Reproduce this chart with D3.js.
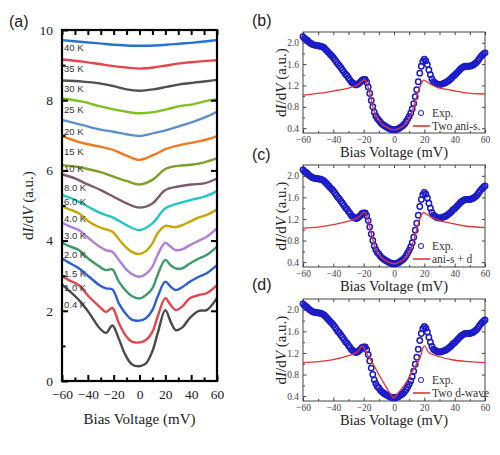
<!DOCTYPE html>
<html>
<head>
<meta charset="utf-8">
<script src="https://cdn.jsdelivr.net/npm/d3@7"></script>
<style>
  body { margin: 0; background: #fff; }
  text { font-family: "Liberation Serif", "Times New Roman", serif; }
</style>
</head>
<body>
<div id="chart"></div>
<script>
// ---- Panel (a): temperature-dependent spectra ----
const temps = ["0.4 K", "1.0 K", "1.5 K", "2.0 K", "3.0 K", "4.0 K", "6.0 K", "8.0 K",
               "10 K", "15 K", "20 K", "25 K", "30 K", "35 K", "40 K"];

const biasLow = [-60, -55, -47, -39, -31, -26, -21, -16, -11, -6, 0, 5, 10, 14, 20, 24, 28, 33, 39, 46, 52, 60];
const biasMid = [-60, -50, -40, -30, -20, -10, 0, 10, 20, 30, 40, 50, 60];
const biasHigh = [-60, -44, -31, -20, -10, 0, 11, 21, 31, 42, 52, 60];

const g04 = [2.75, 2.59, 2.31, 1.94, 1.51, 1.37, 1.58, 1.20, 0.75, 0.48, 0.42, 0.50, 0.85, 1.35, 2.02, 1.70, 1.45, 1.52, 1.80, 2.00, 2.02, 2.36];
const g10 = [2.99, 2.88, 2.73, 2.40, 2.12, 1.97, 2.08, 1.65, 1.31, 1.12, 1.10, 1.17, 1.40, 1.83, 2.36, 2.17, 2.02, 2.12, 2.36, 2.45, 2.50, 2.73];
const g15 = [3.49, 3.38, 3.21, 2.97, 2.73, 2.64, 2.61, 2.21, 1.93, 1.75, 1.72, 1.79, 2.02, 2.40, 2.83, 2.69, 2.59, 2.67, 2.83, 2.97, 3.07, 3.30];
const g20 = [3.94, 3.85, 3.73, 3.47, 3.26, 3.16, 3.18, 2.83, 2.59, 2.42, 2.35, 2.45, 2.64, 3.02, 3.45, 3.30, 3.21, 3.21, 3.35, 3.49, 3.59, 3.83];
const g30 = [4.51, 4.42, 4.30, 4.06, 3.83, 3.73, 3.68, 3.45, 3.21, 3.05, 2.97, 3.05, 3.26, 3.59, 3.94, 3.83, 3.73, 3.75, 3.87, 4.00, 4.11, 4.35];
const g40 = [4.99, 4.90, 4.78, 4.54, 4.38, 4.32, 4.25, 4.04, 3.83, 3.68, 3.62, 3.70, 3.92, 4.21, 4.42, 4.40, 4.38, 4.44, 4.54, 4.66, 4.73, 4.89];
const g60 = [5.30, 5.16, 4.97, 4.78, 4.65, 4.44, 4.30, 4.49, 4.92, 5.06, 5.16, 5.25, 5.41];
const g80 = [5.89, 5.77, 5.60, 5.44, 5.25, 5.06, 4.94, 5.06, 5.44, 5.54, 5.60, 5.63, 5.77];
const g100 = [6.15, 6.11, 6.04, 5.95, 5.82, 5.70, 5.60, 5.73, 6.04, 6.13, 6.16, 6.23, 6.34];
const g150 = [6.98, 6.78, 6.68, 6.58, 6.42, 6.30, 6.44, 6.62, 6.72, 6.80, 6.88, 6.98];
const g200 = [7.44, 7.29, 7.17, 7.10, 7.03, 6.98, 7.06, 7.15, 7.26, 7.39, 7.53, 7.67];
const g250 = [8.05, 7.96, 7.83, 7.74, 7.67, 7.63, 7.66, 7.74, 7.83, 7.89, 7.98, 8.03];
const g300 = [8.56, 8.53, 8.48, 8.40, 8.31, 8.27, 8.31, 8.38, 8.45, 8.50, 8.54, 8.58];
const g350 = [9.16, 9.10, 9.03, 8.97, 8.93, 8.90, 8.93, 8.99, 9.05, 9.09, 9.12, 9.14];
const g400 = [9.71, 9.66, 9.62, 9.58, 9.56, 9.55, 9.56, 9.58, 9.61, 9.64, 9.68, 9.71];

// level (in dI/dV units) where each temperature label sits
const labelLevel = [2.17, 2.65, 3.06, 3.59, 4.14, 4.62, 5.11, 5.51, 6.06, 6.53, 7.11, 7.73, 8.32, 8.90, 9.49];

const tempColors = ["#4a4a4a", "#e2474d", "#2c5fd0", "#3a9a68", "#b07fd9", "#c9a500", "#22c6c6", "#7b5a6b",
                    "#7ea02a", "#f07b1f", "#5b90cc", "#7dc11f", "#505050", "#e2474d", "#2474cf"];

// ---- Panels (b)-(d): 0.4 K spectrum (1 mV steps from -60 to 60) and fits ----
const expG = [
    2.11, 2.08, 2.06, 2.04, 2.01, 1.99, 1.97, 1.96, 1.95, 1.95,   // -60 .. -51
    1.94, 1.94, 1.93, 1.92, 1.90, 1.87, 1.84, 1.81, 1.78, 1.75,   // -50 .. -41
    1.72, 1.68, 1.64, 1.60, 1.57, 1.53, 1.49, 1.45, 1.41, 1.38,   // -40 .. -31
    1.34, 1.30, 1.26, 1.24, 1.22, 1.21, 1.22, 1.24, 1.27, 1.30,   // -30 .. -21
    1.31, 1.31, 1.26, 1.17, 1.05, 0.92, 0.80, 0.70, 0.63, 0.58,   // -20 .. -11
    0.55, 0.51, 0.48, 0.46, 0.44, 0.42, 0.41, 0.39, 0.38, 0.37,   // -10 .. -1
    0.37,                                                         // 0
    0.37, 0.38, 0.39, 0.41, 0.43, 0.45, 0.48, 0.52, 0.57, 0.62,   // 1 .. 10
    0.68, 0.76, 0.86, 0.99, 1.12, 1.27, 1.43, 1.56, 1.65, 1.69,   // 11 .. 20
    1.66, 1.59, 1.49, 1.40, 1.32, 1.27, 1.25, 1.23, 1.22, 1.22,   // 21 .. 30
    1.22, 1.23, 1.24, 1.25, 1.27, 1.29, 1.31, 1.34, 1.37, 1.39,   // 31 .. 40
    1.42, 1.45, 1.48, 1.51, 1.53, 1.55, 1.56, 1.56, 1.56, 1.56,   // 41 .. 50
    1.57, 1.58, 1.60, 1.62, 1.65, 1.69, 1.73, 1.76, 1.79, 1.81    // 51 .. 60
];
const expBias = d3.range(-60, 61, 1);

const fitBias = [-60, -50, -39, -30, -24, -22, -20, -19, -18, -17, -16, -15, -14, -13, -12, -10, -8, -5, 0,
                 5, 8, 10, 12, 14, 16, 18, 19.5, 21, 23, 29, 38, 47, 60];
const fitTwoAniS = [1.02, 1.05, 1.10, 1.15, 1.21, 1.26, 1.30, 1.30, 1.25, 1.16, 1.05, 0.93, 0.81, 0.71, 0.64, 0.55, 0.48, 0.42, 0.37,
                    0.42, 0.50, 0.58, 0.72, 0.90, 1.08, 1.24, 1.30, 1.28, 1.24, 1.16, 1.11, 1.06, 1.04];
const fitAniSD = [1.03, 1.05, 1.10, 1.16, 1.22, 1.27, 1.32, 1.32, 1.26, 1.17, 1.06, 0.94, 0.82, 0.72, 0.64, 0.55, 0.48, 0.42, 0.37,
                  0.42, 0.50, 0.58, 0.72, 0.91, 1.10, 1.27, 1.32, 1.30, 1.26, 1.18, 1.12, 1.07, 1.04];
const dBias = [-60, -50, -41, -30, -24, -21, -18, -14, -10, -6, -3, 0, 3, 8, 12, 17, 20, 23, 30, 39, 50, 60];
const fitTwoD = [1.02, 1.04, 1.07, 1.15, 1.22, 1.33, 1.19, 1.01, 0.80, 0.61, 0.47, 0.37, 0.47, 0.65, 0.86, 1.10, 1.33, 1.21, 1.13, 1.07, 1.04, 1.02];

const legendNames = ["Two ani-s.", "ani-s + d", "Two d-wave"];

// ---------------------------------------------------------------
const svg = d3.select("#chart").append("svg")
    .attr("width", 500)
    .attr("height", 455);

// ===== Panel (a) =====
const xA = d3.scaleLinear().domain([-60, 60]).range([62, 217]);
const yA = d3.scaleLinear().domain([0, 10]).range([381, 30]);

const seriesA = [
    { bias: biasLow, g: g04 }, { bias: biasLow, g: g10 }, { bias: biasLow, g: g15 },
    { bias: biasLow, g: g20 }, { bias: biasLow, g: g30 }, { bias: biasLow, g: g40 },
    { bias: biasMid, g: g60 }, { bias: biasMid, g: g80 }, { bias: biasMid, g: g100 },
    { bias: biasHigh, g: g150 }, { bias: biasHigh, g: g200 }, { bias: biasHigh, g: g250 },
    { bias: biasHigh, g: g300 }, { bias: biasHigh, g: g350 }, { bias: biasHigh, g: g400 }
].map((s, i) => ({ label: temps[i], color: tempColors[i], pts: s.bias.map((b, j) => [b, s.g[j]]) }));

const lineA = d3.line()
    .x(d => xA(d[0]))
    .y(d => yA(d[1]))
    .curve(d3.curveCatmullRom.alpha(0.5));

const gA = svg.append("g");

gA.selectAll(".curveA")
    .data(seriesA)
    .enter()
    .append("path")
    .attr("class", "curveA")
    .attr("d", d => lineA(d.pts))
    .attr("fill", "none")
    .attr("stroke", d => d.color)
    .attr("stroke-width", 2.4);

gA.selectAll(".tlabel")
    .data(seriesA)
    .enter()
    .append("text")
    .attr("class", "tlabel")
    .attr("x", xA(-60) + 2)
    .attr("y", (d, i) => yA(labelLevel[i]) + 3.5)
    .style("font-family", "'Liberation Sans', Arial, sans-serif")
    .style("font-size", "9.5px")
    .attr("fill", "#333")
    .text(d => d.label);

// axes for (a)
const fmtA = d => (d < 0 ? "\u2212" + Math.abs(d) : d);
gA.append("g")
    .attr("transform", `translate(0,${yA(0)})`)
    .call(d3.axisBottom(xA).tickValues(d3.range(-60, 61, 20)).tickSize(-6).tickSizeOuter(0).tickPadding(8).tickFormat(fmtA))
    .call(g => g.select(".domain").remove());
gA.append("g")
    .attr("transform", `translate(0,${yA(0)})`)
    .call(d3.axisBottom(xA).tickValues(d3.range(-50, 60, 20)).tickSize(-3.5).tickFormat(""))
    .call(g => g.select(".domain").remove());
gA.append("g")
    .attr("transform", `translate(0,${yA(10)})`)
    .call(d3.axisTop(xA).tickValues(d3.range(-60, 61, 10)).tickSize(-5).tickFormat(""))
    .call(g => g.select(".domain").remove());
gA.append("g")
    .attr("transform", `translate(${xA(-60)},0)`)
    .call(d3.axisLeft(yA).tickValues(d3.range(0, 11, 2)).tickSize(-6).tickPadding(9))
    .call(g => g.select(".domain").remove());
gA.append("g")
    .attr("transform", `translate(${xA(-60)},0)`)
    .call(d3.axisLeft(yA).tickValues(d3.range(1, 10, 2)).tickSize(-3.5).tickFormat(""))
    .call(g => g.select(".domain").remove());
gA.append("g")
    .attr("transform", `translate(${xA(60)},0)`)
    .call(d3.axisRight(yA).tickValues(d3.range(2, 9, 2)).tickSize(-6).tickFormat(""))
    .call(g => g.select(".domain").remove());

gA.selectAll(".tick line").attr("stroke", "#000").attr("stroke-width", 2);
gA.selectAll(".tick text").style("font-size", "13.5px").attr("fill", "#222");

gA.append("rect")
    .attr("x", xA(-60)).attr("y", yA(10))
    .attr("width", xA(60) - xA(-60)).attr("height", yA(0) - yA(10))
    .attr("fill", "none").attr("stroke", "#000").attr("stroke-width", 2.2);

gA.append("text")
    .attr("x", (xA(-60) + xA(60)) / 2).attr("y", 424)
    .attr("text-anchor", "middle")
    .style("font-size", "15px").attr("fill", "#222")
    .text("Bias Voltage (mV)");

function yTitle(g, x, y, size) {
    const t = g.append("text")
        .attr("transform", `translate(${x},${y}) rotate(-90)`)
        .attr("text-anchor", "middle")
        .attr("dy", "0.35em")
        .style("font-size", size + "px").attr("fill", "#222");
    t.append("tspan").text("d");
    t.append("tspan").style("font-style", "italic").text("I");
    t.append("tspan").text("/d");
    t.append("tspan").style("font-style", "italic").text("V");
    t.append("tspan").text(" (a.u.)");
}
yTitle(gA, 28, (yA(0) + yA(10)) / 2, 15);

svg.append("text")
    .attr("x", 9).attr("y", 27)
    .style("font-family", "'Liberation Sans', Arial, sans-serif")
    .style("font-size", "16px").attr("fill", "#222")
    .text("(a)");

// ===== Panels (b)-(d) =====
const panels = [
    { letter: "(b)", top: 32, bottom: 133, bias: fitBias, fit: fitTwoAniS, name: legendNames[0], letterY: 26 },
    { letter: "(c)", top: 165, bottom: 267, bias: fitBias, fit: fitAniSD, name: legendNames[1], letterY: 160 },
    { letter: "(d)", top: 299, bottom: 401, bias: dBias, fit: fitTwoD, name: legendNames[2], letterY: 290 }
];

const expPts = expBias.map((b, i) => [b, expG[i]]);

panels.forEach(p => {
    const x = d3.scaleLinear().domain([-60, 60]).range([303, 485]);
    const y = d3.scaleLinear().domain([0.31, 2.2]).range([p.bottom, p.top]);
    const g = svg.append("g");

    g.append("g")
        .attr("transform", `translate(0,${p.bottom})`)
        .call(d3.axisBottom(x).tickValues(d3.range(-60, 61, 20)).tickSize(-3.5).tickPadding(3).tickFormat(d3.format("d")))
        .call(s => s.select(".domain").remove());
    g.append("g")
        .attr("transform", `translate(0,${p.bottom})`)
        .call(d3.axisBottom(x).tickValues(d3.range(-50, 60, 20)).tickSize(-2).tickFormat(""))
        .call(s => s.select(".domain").remove());
    g.append("g")
        .attr("transform", `translate(0,${p.top})`)
        .call(d3.axisTop(x).tickValues(d3.range(-60, 61, 10)).tickSize(-3).tickFormat(""))
        .call(s => s.select(".domain").remove());
    g.append("g")
        .attr("transform", `translate(303,0)`)
        .call(d3.axisLeft(y).tickValues([0.4, 0.8, 1.2, 1.6, 2.0]).tickSize(-3.5).tickPadding(4).tickFormat(d3.format(".1f")))
        .call(s => s.select(".domain").remove());
    g.append("g")
        .attr("transform", `translate(303,0)`)
        .call(d3.axisLeft(y).tickValues([0.6, 1.0, 1.4, 1.8]).tickSize(-2).tickFormat(""))
        .call(s => s.select(".domain").remove());
    g.append("g")
        .attr("transform", `translate(485,0)`)
        .call(d3.axisRight(y).tickValues([0.4, 0.8, 1.2, 1.6, 2.0]).tickSize(-3).tickFormat(""))
        .call(s => s.select(".domain").remove());

    g.selectAll(".tick line").attr("stroke", "#444").attr("stroke-width", 1);
    g.selectAll(".tick text").style("font-size", "9.5px").attr("fill", "#444");

    g.append("rect")
        .attr("x", 303).attr("y", p.top)
        .attr("width", 182).attr("height", p.bottom - p.top)
        .attr("fill", "none").attr("stroke", "#444").attr("stroke-width", 1);

    // experimental points
    g.selectAll(".exp")
        .data(expPts)
        .enter()
        .append("circle")
        .attr("class", "exp")
        .attr("cx", d => x(d[0]))
        .attr("cy", d => y(d[1]))
        .attr("r", 2.7)
        .attr("fill", "none")
        .attr("stroke", "#1a1ac8")
        .attr("stroke-width", 1.5);

    // fit
    g.append("path")
        .datum(p.bias.map((b, i) => [b, p.fit[i]]))
        .attr("d", d3.line().x(d => x(d[0])).y(d => y(d[1])).curve(d3.curveCatmullRom.alpha(0.5)))
        .attr("fill", "none")
        .attr("stroke", "#e23535")
        .attr("stroke-width", 1.3);

    // legend
    g.append("circle")
        .attr("cx", 421).attr("cy", p.top + 81).attr("r", 2.5)
        .attr("fill", "none").attr("stroke", "#3a3ad6").attr("stroke-width", 1.1);
    g.append("text")
        .attr("x", 432).attr("y", p.top + 85)
        .style("font-size", "11.5px").attr("fill", "#333")
        .text("Exp.");
    g.append("line")
        .attr("x1", 413).attr("x2", 430)
        .attr("y1", p.top + 94).attr("y2", p.top + 94)
        .attr("stroke", "#e23535").attr("stroke-width", 1.6);
    g.append("text")
        .attr("x", 432).attr("y", p.top + 98)
        .style("font-size", "11.5px").attr("fill", "#333")
        .text(p.name);

    g.append("text")
        .attr("x", 394).attr("y", p.bottom + 24)
        .attr("text-anchor", "middle")
        .style("font-size", "14.5px").attr("fill", "#222")
        .text("Bias Voltage (mV)");

    yTitle(g, 281, (p.top + p.bottom) / 2, 15);

    svg.append("text")
        .attr("x", 252).attr("y", p.letterY)
        .style("font-family", "'Liberation Sans', Arial, sans-serif")
        .style("font-size", "16px").attr("fill", "#222")
        .text(p.letter);
});
</script>
</body>
</html>
